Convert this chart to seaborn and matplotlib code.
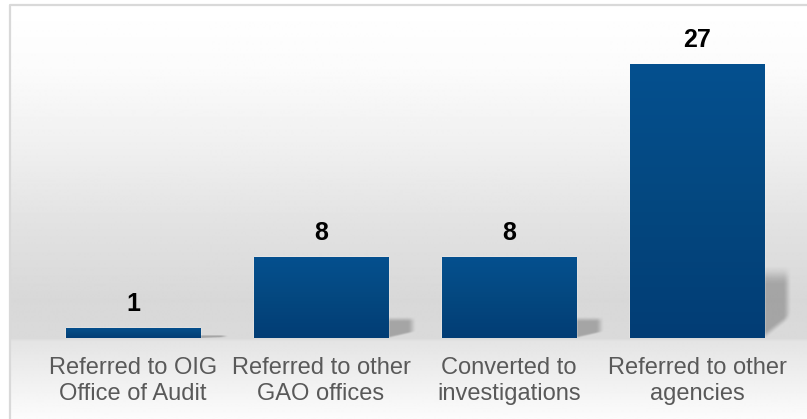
import numpy as np
import pandas as pd
import matplotlib
matplotlib.use('Agg')
import matplotlib.pyplot as plt
import seaborn as sns
from matplotlib.colors import LinearSegmentedColormap
from matplotlib.lines import Line2D

# Data
categories = ['Referred to OIG\nOffice of Audit', 'Referred to other\nGAO offices',
              'Converted to\ninvestigations', 'Referred to other\nagencies']
counts = [1, 8, 8, 27]

df = pd.DataFrame({'category': categories, 'count': counts})

sns.set_theme(style='white')
plt.rcParams['font.family'] = ['Liberation Sans', 'DejaVu Sans']

W, H = 807, 419
fig = plt.figure(figsize=(W / 100, H / 100), dpi=100)
fig.patch.set_facecolor('white')

# Background: vertical grey gradient inside the frame
bg = fig.add_axes([10 / W, 0, 1 - 10 / W, 1 - 6 / H])
bg.set_axis_off()
stop_y = [6, 70, 150, 230, 300, 338, 341, 380, 419]   # figure pixels from top
stop_c = [255, 251, 239, 225, 216, 218, 228, 240, 252]
rows = np.arange(6, 419)
shade = np.interp(rows, stop_y, stop_c) / 255.0
bg_img = np.repeat(shade[:, None], 2, axis=1)
bg.imshow(bg_img, cmap='gray', vmin=0, vmax=1, aspect='auto', interpolation='bilinear')

# Frame line (top and left)
fig.add_artist(Line2D([9.5 / W, 9.5 / W, 1], [0, 1 - 5.5 / H, 1 - 5.5 / H],
                      transform=fig.transFigure, color='#d9d9d9', lw=1.6))


def smooth(x):
    x = np.clip(x, 0, 1)
    return x * x * (3 - 2 * x)


# Main axes
ax = fig.add_axes([39 / W, 81 / H, 752 / W, 328 / H])
ax.patch.set_alpha(0)
sns.barplot(data=df, x='category', y='count', color='#044a8a', width=0.713,
            saturation=1, ax=ax, zorder=3)

# Gradient fill on the bars
bar_cmap = LinearSegmentedColormap.from_list('bar', ['#023d75', '#044880', '#05508f'])
grad = np.linspace(0, 1, 128)[:, None]
for p in ax.patches:
    x0, y0, w, h = p.get_x(), p.get_y(), p.get_width(), p.get_height()
    im = ax.imshow(grad, cmap=bar_cmap, extent=[x0, x0 + w, y0, y0 + h],
                   origin='lower', aspect='auto', zorder=3.5, interpolation='bilinear')
    im.set_clip_path(p)

    # soft shadow to the right of each bar
    nx, ny = 60, 80
    u = np.linspace(0, 1, nx)[None, :]
    v = np.linspace(0, 1, ny)[:, None]
    fx = smooth((1 - u) / 0.3)
    fy_top = smooth((1 - v) / 0.28)
    fy_bot = smooth((v - 0.32 * u) / 0.12 + 0.5)
    alpha = 0.24 * fx * fy_top * fy_bot
    rgba = np.zeros((ny, nx, 4))
    rgba[..., 3] = alpha
    sw = 0.15
    sh = 0.27 * h
    ax.imshow(rgba, extent=[x0 + w - 0.01, x0 + w + sw, 0, sh], origin='lower',
              aspect='auto', zorder=2, interpolation='bilinear')

# Value labels
for i, v in enumerate(counts):
    ax.annotate(str(v), (i, v), xytext=(0, 12.2), textcoords='offset points',
                ha='center', va='baseline', fontsize=18, fontweight='bold', color='black')

ax.set_xlim(-0.5, 3.5)
ax.set_ylim(0, 32.32)
ax.set_xlabel('')
ax.set_ylabel('')
ax.set_yticks([])
sns.despine(ax=ax, left=True, bottom=True)
ax.tick_params(axis='x', length=0, pad=13.7, labelsize=17, labelcolor='#595959')
for t in ax.get_xticklabels():
    t.set_linespacing(1.22)

fig.savefig('out.png', dpi=100)
